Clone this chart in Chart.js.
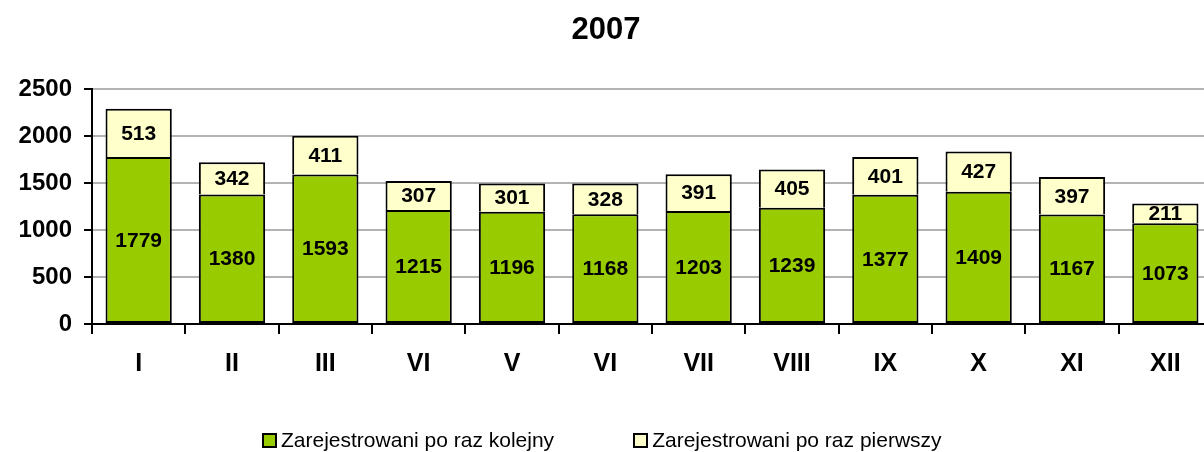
<!DOCTYPE html>
<html>
<head>
<meta charset="utf-8">
<script src="https://cdn.jsdelivr.net/npm/chart.js@4/dist/chart.umd.min.js"></script>
<style>
  html, body { margin: 0; padding: 0; background: #fff; overflow: hidden; }
  #wrap { position: relative; width: 1212px; height: 452px; }
  #legend { position: absolute; top: 428px; left: 262px; display: flex; font: 21px "Liberation Sans", Arial, sans-serif; color: #000; }
  .item { display: flex; align-items: center; margin-right: 79px; }
  .box { width: 11px; height: 11px; border: 2px solid #000; margin-right: 4px; }
</style>
</head>
<body>
<div id="wrap">
  <canvas id="chart" width="1212" height="452"></canvas>
  <div id="legend"></div>
</div>
<script>
// months (the source repeats "VI" for May's slot)
const months = ['I', 'II', 'III', 'VI', 'V', 'VI', 'VII', 'VIII', 'IX', 'X', 'XI', 'XII'];
const kolejny = [1779, 1380, 1593, 1215, 1196, 1168, 1203, 1239, 1377, 1409, 1167, 1073];
const pierwszy = [513, 342, 411, 307, 301, 328, 391, 405, 401, 427, 397, 211];
const yTicks = [0, 500, 1000, 1500, 2000, 2500];

const FONT = '"Liberation Sans", Arial, sans-serif';

// values written in the middle of each bar segment
const barValues = {
    id: 'barValues',
    afterDatasetsDraw(chart) {
        const ctx = chart.ctx;
        ctx.save();
        ctx.font = 'bold 21px ' + FONT;
        ctx.fillStyle = '#000';
        ctx.textAlign = 'center';
        ctx.textBaseline = 'middle';
        chart.data.datasets.forEach((ds, i) => {
            chart.getDatasetMeta(i).data.forEach((bar, j) => {
                ctx.fillText(ds.data[j], bar.x, (bar.y + bar.base) / 2 + 1);
            });
        });
        ctx.restore();
    }
};

const chart = new Chart(document.getElementById('chart'), {
    type: 'bar',
    data: {
        labels: months,
        datasets: [
            { label: 'Zarejestrowani po raz kolejny', data: kolejny, backgroundColor: '#99CC00', borderSkipped: false },
            { label: 'Zarejestrowani po raz pierwszy', data: pierwszy, backgroundColor: '#FFFFCC', borderSkipped: 'bottom' }
        ]
    },
    options: {
        responsive: false,
        animation: false,
        layout: { padding: { top: 0, left: 0, right: 0, bottom: 58 } },
        datasets: {
            bar: {
                borderColor: '#000',
                borderWidth: 2,
                categoryPercentage: 1,
                barPercentage: 0.71
            }
        },
        plugins: {
            legend: { display: false },
            tooltip: { enabled: false },
            title: {
                display: true,
                text: '2007',
                color: '#000',
                font: { family: FONT, size: 31, weight: 'bold' },
                padding: { top: 12, bottom: 40 }
            }
        },
        scales: {
            x: {
                stacked: true,
                grid: { drawOnChartArea: false, offset: true, tickColor: '#000', tickLength: 10, lineWidth: 2 },
                border: { color: '#000', width: 2 },
                ticks: { color: '#000', padding: 15, font: { family: FONT, size: 25, weight: 'bold' } }
            },
            y: {
                stacked: true,
                min: 0,
                max: 2500,
                afterBuildTicks: (s) => { s.ticks = yTicks.map(v => ({ value: v })); },
                afterFit: (s) => { s.width = 92; },
                grid: { color: '#b3b3b3', lineWidth: 2, tickColor: '#000', tickLength: 8 },
                border: { color: '#000', width: 2 },
                ticks: {
                    color: '#000',
                    padding: 12,
                    font: { family: FONT, size: 24, weight: 'bold' },
                    callback: (v) => String(v)
                }
            }
        }
    },
    plugins: [barValues]
});

// legend below the plot
const legend = document.getElementById('legend');
chart.data.datasets.forEach(ds => {
    const item = document.createElement('div');
    item.className = 'item';
    item.innerHTML = `<span class="box" style="background:${ds.backgroundColor}"></span><span>${ds.label}</span>`;
    legend.appendChild(item);
});
</script>
</body>
</html>
